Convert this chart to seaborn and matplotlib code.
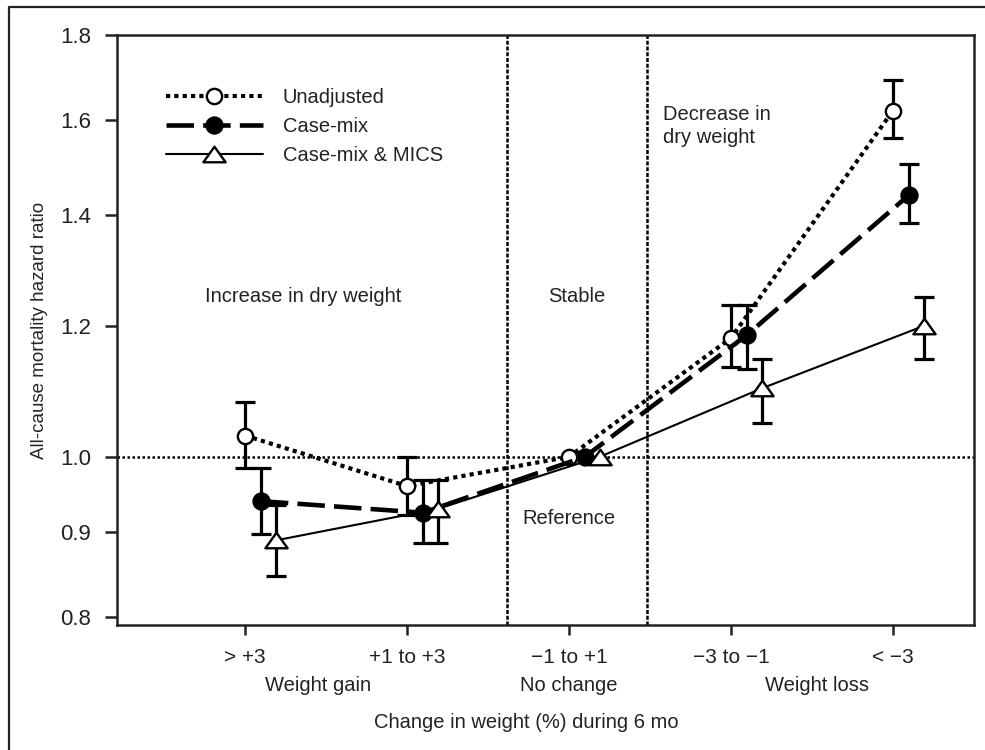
import numpy as np
import matplotlib
matplotlib.use("Agg")
import matplotlib.pyplot as plt
from matplotlib.lines import Line2D
from matplotlib.path import Path
from matplotlib.ticker import FixedLocator, NullLocator, NullFormatter
import seaborn as sns

# Weight-change categories (% change over 6 months)
categories = ["> +3", "+1 to +3", "\u22121 to +1", "\u22123 to \u22121", "< \u22123"]
group_labels = ["Weight gain", "No change", "Weight loss"]

# Hazard ratios and 95% confidence limits (reference category has no interval)
unadjusted = [1.03, 0.96, 1.00, 1.18, 1.62]
unadjusted_lo = [0.985, 0.922, np.nan, 1.133, 1.56]
unadjusted_hi = [1.08, 1.00, np.nan, 1.236, 1.69]

casemix = [0.94, 0.925, 1.00, 1.185, 1.44]
casemix_lo = [0.898, 0.887, np.nan, 1.13, 1.386]
casemix_hi = [0.985, 0.968, np.nan, 1.236, 1.504]

mics = [0.89, 0.93, 1.00, 1.10, 1.20]
mics_lo = [0.847, 0.887, np.nan, 1.048, 1.146]
mics_hi = [0.935, 0.968, np.nan, 1.146, 1.25]

y_ticks = [0.8, 0.9, 1.0, 1.2, 1.4, 1.6, 1.8]

sns.set_style("ticks")
plt.rcParams["font.family"] = ["Liberation Sans", "DejaVu Sans"]
plt.rcParams["text.color"] = "#222222"

W, H = 985, 750
fig = plt.figure(figsize=(W / 100, H / 100), dpi=100)
ax = fig.add_axes([117 / W, 1 - 625 / H, (974 - 117) / W, (625 - 35) / H])

# Wide, flat open triangle
tri = Path([(0, 0.7), (-1, -0.7), (1, -0.7), (0, 0.7)],
           [Path.MOVETO, Path.LINETO, Path.LINETO, Path.CLOSEPOLY])

series = [
    ("Unadjusted", unadjusted, unadjusted_lo, unadjusted_hi,
     dict(offset=0.0, linestyle=(0, (1, 1)), linewidth=3.0, marker="o",
          markersize=11, markerfacecolor="white")),
    ("Case-mix", casemix, casemix_lo, casemix_hi,
     dict(offset=0.098, linestyle=(0, (6, 2)), linewidth=3.3, marker="o",
          markersize=11.5, markerfacecolor="black")),
    ("Case-mix & MICS", mics, mics_lo, mics_hi,
     dict(offset=0.19, linestyle="-", linewidth=1.5, marker=tri,
          markersize=16, markerfacecolor="white")),
]

# Reference lines: HR = 1 and the "stable" band boundaries
ax.axhline(1.0, color="black", linewidth=1.8, linestyle=(0, (1, 1)), zorder=1)
for xv in (1.617, 2.481):
    ax.axvline(xv, color="black", linewidth=1.8, linestyle=(0, (1.6, 0.7)), zorder=1)

base = np.arange(len(categories))
for name, vals, lo, hi, st in series:
    st = dict(st)
    off = st.pop("offset")
    xpos = base + off
    vals = np.asarray(vals)
    lo = np.asarray(lo)
    hi = np.asarray(hi)
    ok = ~np.isnan(lo)
    ax.errorbar(xpos[ok], vals[ok], yerr=[vals[ok] - lo[ok], hi[ok] - vals[ok]],
                fmt="none", ecolor="black", elinewidth=2.3, capsize=7.2,
                capthick=2.3, zorder=2)
    sns.lineplot(x=xpos, y=vals, ax=ax, color="black", sort=False,
                 markeredgecolor="black", markeredgewidth=1.7,
                 label=name, zorder=3, **st)

ax.set_yscale("log")
ax.set_ylim(0.791, 1.8)
ax.set_xlim(-0.79, 4.5)
ax.yaxis.set_major_locator(FixedLocator(y_ticks))
ax.yaxis.set_minor_locator(NullLocator())
ax.yaxis.set_minor_formatter(NullFormatter())
ax.set_yticklabels([f"{t:.1f}" for t in y_ticks])
ax.set_xticks(base)
ax.set_xticklabels(categories)

for sp in ax.spines.values():
    sp.set_linewidth(1.8)
    sp.set_color("#222222")
    sp.set_visible(True)
ax.tick_params(axis="y", direction="out", length=8.5, width=1.8, pad=10,
               labelsize=16, colors="#222222")
ax.tick_params(axis="x", direction="out", length=7.5, width=1.8, pad=9,
               labelsize=15, colors="#222222")

ax.set_ylabel("All-cause mortality hazard ratio", fontsize=13.5, labelpad=9)
ax.set_xlabel("")

# Region annotations
ax.text(0.36, 1.25, "Increase in dry weight", fontsize=14.5, ha="center", va="center")
ax.text(2.05, 1.25, "Stable", fontsize=14.5, ha="center", va="center")
ax.text(2.0, 0.918, "Reference", fontsize=14.5, ha="center", va="center")
ax.text(2.58, 1.586, "Decrease in\ndry weight", fontsize=14.5, ha="left",
        va="center", linespacing=1.3)

# Group labels under the tick labels
trans = ax.get_xaxis_transform()
for xg, lab in zip([0.45, 2.0, 3.53], group_labels):
    ax.text(xg, -0.102, lab, transform=trans, fontsize=14.5, ha="center", va="center")

fig.text(526 / W, 1 - 723 / H, "Change in weight (%) during 6 mo", fontsize=14.5,
         ha="center", va="center")

leg = ax.legend(loc="center left", bbox_to_anchor=(0.057, 0.845), frameon=False,
                fontsize=14.5, handlelength=4.8, handletextpad=1.0,
                labelspacing=0.5, borderpad=0, borderaxespad=0, numpoints=1)

# Outer frame (top and left edges)
fig.add_artist(Line2D([9 / W, 9 / W, 1.0], [0.0, 1 - 7 / H, 1 - 7 / H],
                      transform=fig.transFigure, color="#222222", linewidth=1.6))

fig.savefig("out.png", dpi=100)
